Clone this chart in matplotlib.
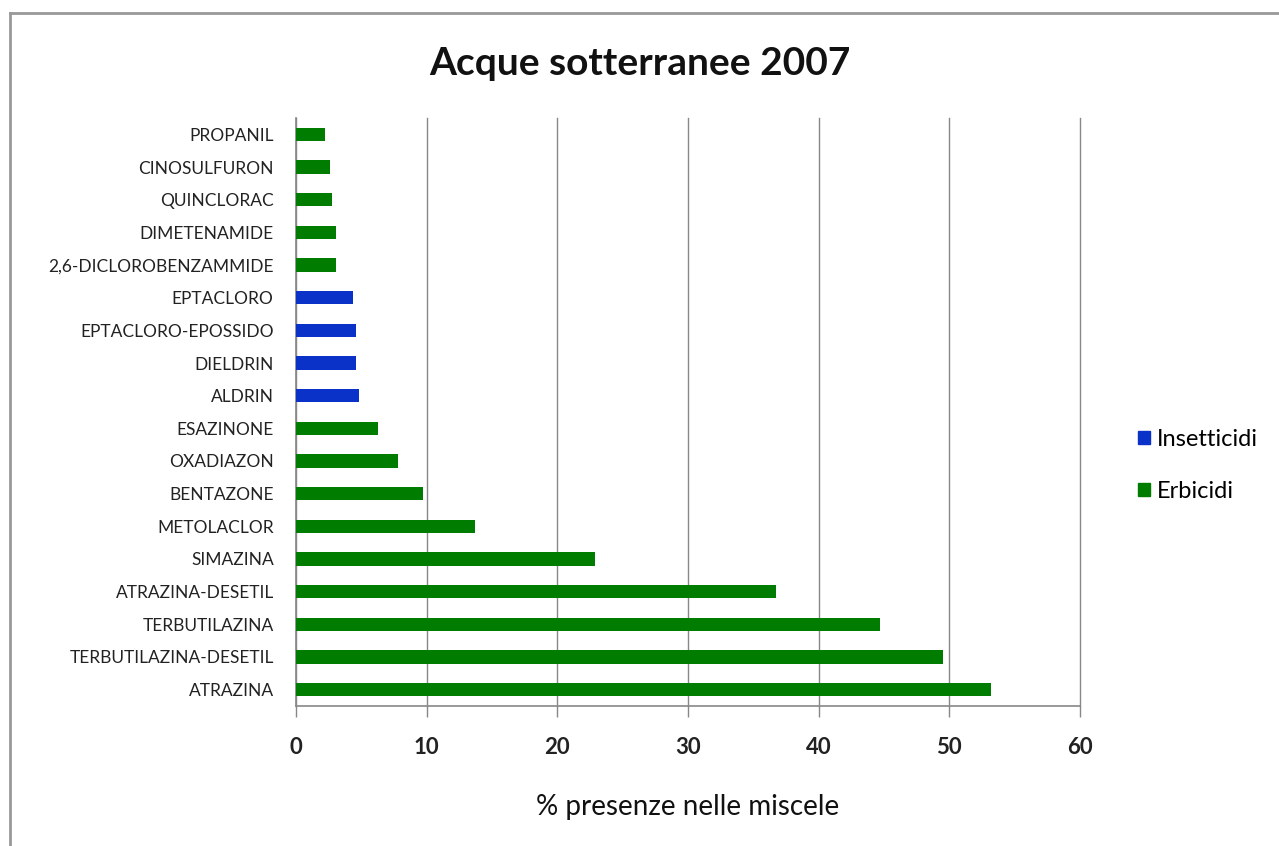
import matplotlib.pyplot as plt
from matplotlib.patches import Patch
from matplotlib.lines import Line2D

# data, listed from the bottom bar to the top one
sostanze = ['ATRAZINA', 'TERBUTILAZINA-DESETIL', 'TERBUTILAZINA', 'ATRAZINA-DESETIL',
            'SIMAZINA', 'METOLACLOR', 'BENTAZONE', 'OXADIAZON', 'ESAZINONE',
            'ALDRIN', 'DIELDRIN', 'EPTACLORO-EPOSSIDO', 'EPTACLORO',
            '2,6-DICLOROBENZAMMIDE', 'DIMETENAMIDE', 'QUINCLORAC', 'CINOSULFURON', 'PROPANIL']
presenze = [53.2, 49.5, 44.7, 36.7, 22.9, 13.7, 9.7, 7.8, 6.3,
            4.8, 4.6, 4.6, 4.4, 3.1, 3.1, 2.75, 2.6, 2.2]
classe = ['Erbicidi'] * 9 + ['Insetticidi'] * 4 + ['Erbicidi'] * 5
x_ticks = [0, 10, 20, 30, 40, 50, 60]

colori = {'Insetticidi': '#0a32c8', 'Erbicidi': '#007d00'}

plt.rcParams['font.family'] = ['Lato', 'DejaVu Sans']

fig = plt.figure(figsize=(12.79, 8.46), dpi=100)
ax = fig.add_axes([0.2314, 0.1655, 0.613, 0.6950])

pos = list(range(len(sostanze)))
ax.barh(pos, presenze, height=0.4, color=[colori[c] for c in classe], zorder=3)

ax.set_xlim(0, 60)
ax.set_ylim(-0.5, len(sostanze) - 0.5)
ax.set_xticks(x_ticks)
ax.set_xticklabels([str(t) for t in x_ticks], fontsize=16, fontweight='bold', color='#222222')
ax.set_yticks(pos)
ax.set_yticklabels(sostanze, fontsize=12.5, color='#222222')
ax.tick_params(axis='y', length=0, pad=16)
ax.tick_params(axis='x', length=8, width=1, color='#888888', pad=14, direction='out')
ax.grid(axis='x', color='#888888', linewidth=1, zorder=0)
for gl in ax.get_xgridlines():
    gl.set_clip_on(False)

for s in ['top', 'right']:
    ax.spines[s].set_visible(False)
for s in ['left', 'bottom']:
    ax.spines[s].set_color('#888888')
    ax.spines[s].set_linewidth(1.2)

ax.set_xlabel('% presenze nelle miscele', fontsize=20, labelpad=26, color='#111111')
fig.text(0.5, 0.925, 'Acque sotterranee 2007', ha='center', va='center',
         fontsize=28, fontweight='bold', color='#111111')

handles = [Patch(color=colori['Insetticidi']), Patch(color=colori['Erbicidi'])]
fig.legend(handles, ['Insetticidi', 'Erbicidi'], loc='center left',
           bbox_to_anchor=(0.873, 0.45), frameon=False, fontsize=17,
           handlelength=0.5, handleheight=0.5, handletextpad=0.3, labelspacing=1.3)

# outer frame only on the left and top, like the original picture
fig.add_artist(Line2D([0.0075, 0.0075], [0, 0.985], color='#999999', lw=2, transform=fig.transFigure))
fig.add_artist(Line2D([0.0075, 1], [0.985, 0.985], color='#999999', lw=2, transform=fig.transFigure))

fig.savefig('out.png', dpi=100)
